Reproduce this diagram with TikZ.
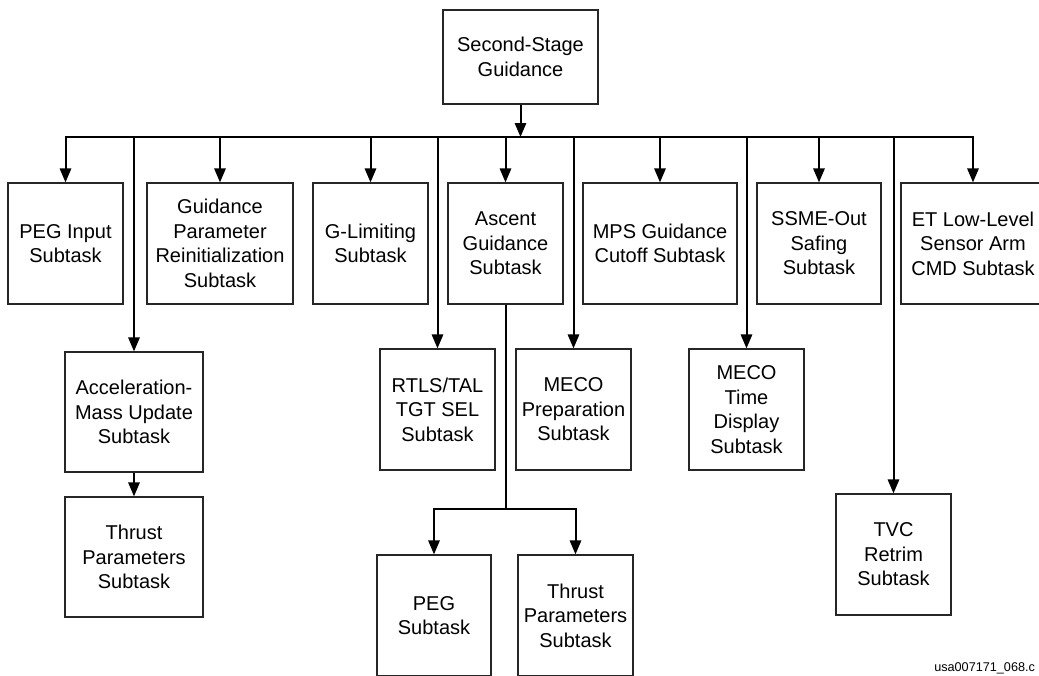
\documentclass[tikz,border=0pt]{standalone}
\usepackage{fontspec}
\setmainfont{Liberation Sans}
\usetikzlibrary{arrows.meta}
\tikzset{
  box/.style={draw=black!85, line width=0.9pt, align=center, inner sep=0pt,
    font=\fontsize{15}{18.4}\selectfont},
  arr/.style={line width=1.5pt, -{Triangle[width=8.5pt,length=10.5pt]}},
  wire/.style={line width=1.5pt},
  tag/.style={font=\fontsize{9.5}{11}\selectfont, anchor=base west, inner sep=0pt}
}
\newcommand\bx[6]{\node[box, minimum width={(#4-#2)*0.75pt}, minimum height={(#5-#3)*0.75pt}] (#1) at ({(#2+#4)/2},{(#3+#5)/2}) {#6};}
\begin{document}
\begin{tikzpicture}[x=0.75pt,y=-0.75pt]
\useasboundingbox (0,0) rectangle (1039,675);
\clip (0,0) rectangle (1039,675);
\bx{top}{443}{10}{598}{104}{Second-Stage\\Guidance}
\bx{peg}{8}{183}{123}{304}{PEG Input\\Subtask}
\bx{gpr}{147}{183}{293}{304}{Guidance\\Parameter\\Reinitialization\\Subtask}
\bx{glim}{313}{183}{428}{304}{G-Limiting\\Subtask}
\bx{asc}{448}{183}{563}{304}{Ascent\\Guidance\\Subtask}
\bx{mps}{583}{183}{737}{304}{MPS Guidance\\Cutoff Subtask}
\bx{ssme}{757}{183}{881}{304}{SSME-Out\\Safing\\Subtask}
\bx{et}{901}{183}{1045}{304}{ET Low-Level\\Sensor Arm\\CMD Subtask}
\bx{acc}{65}{352}{203}{472}{Acceleration-\\Mass Update\\Subtask}
\bx{thra}{65}{497}{203}{617}{Thrust\\Parameters\\Subtask}
\bx{rtls}{380}{349}{495}{470}{RTLS/TAL\\TGT SEL\\Subtask}
\bx{mecop}{516}{349}{631}{470}{MECO\\Preparation\\Subtask}
\bx{mecot}{689}{349}{804}{470}{MECO\\Time\\Display\\Subtask}
\bx{tvc}{836}{494}{951}{615}{TVC\\Retrim\\Subtask}
\bx{pegs}{377}{555}{491}{676}{PEG\\Subtask}
\bx{thrb}{518}{555}{633}{676}{Thrust\\Parameters\\Subtask}
\coordinate (bus) at (67,137);
\coordinate (split) at (505.5,509);
\node[tag] (lbl) at (934,671) {usa007171\_068.c};
% top to bus
\draw[arr] (top.south) -- (top.south |- bus);
% bus with end drops
\draw[arr] (peg.north |- bus) -- (et.north |- bus) -- (et.north);
\draw[arr] (et.north |- bus) -- (peg.north |- bus) -- (peg.north);
% short drops
\draw[arr] (gpr.north |- bus) -- (gpr.north);
\draw[arr] (glim.north |- bus) -- (glim.north);
\draw[arr] (asc.north |- bus) -- (asc.north);
\draw[arr] (mps.north |- bus) -- (mps.north);
\draw[arr] (ssme.north |- bus) -- (ssme.north);
% long drops
\draw[arr] (acc.north |- bus) -- (acc.north);
\draw[arr] (rtls.north |- bus) -- (rtls.north);
\draw[arr] (mecop.north |- bus) -- (mecop.north);
\draw[arr] (mecot.north |- bus) -- (mecot.north);
\draw[arr] (tvc.north |- bus) -- (tvc.north);
% acceleration to thrust
\draw[arr] (acc.south) -- (thra.north);
% ascent guidance split
\draw[wire] (asc.south) -- (split);
\draw[arr] (split) -| (pegs.north);
\draw[arr] (split) -| (thrb.north);
\end{tikzpicture}
\end{document}
